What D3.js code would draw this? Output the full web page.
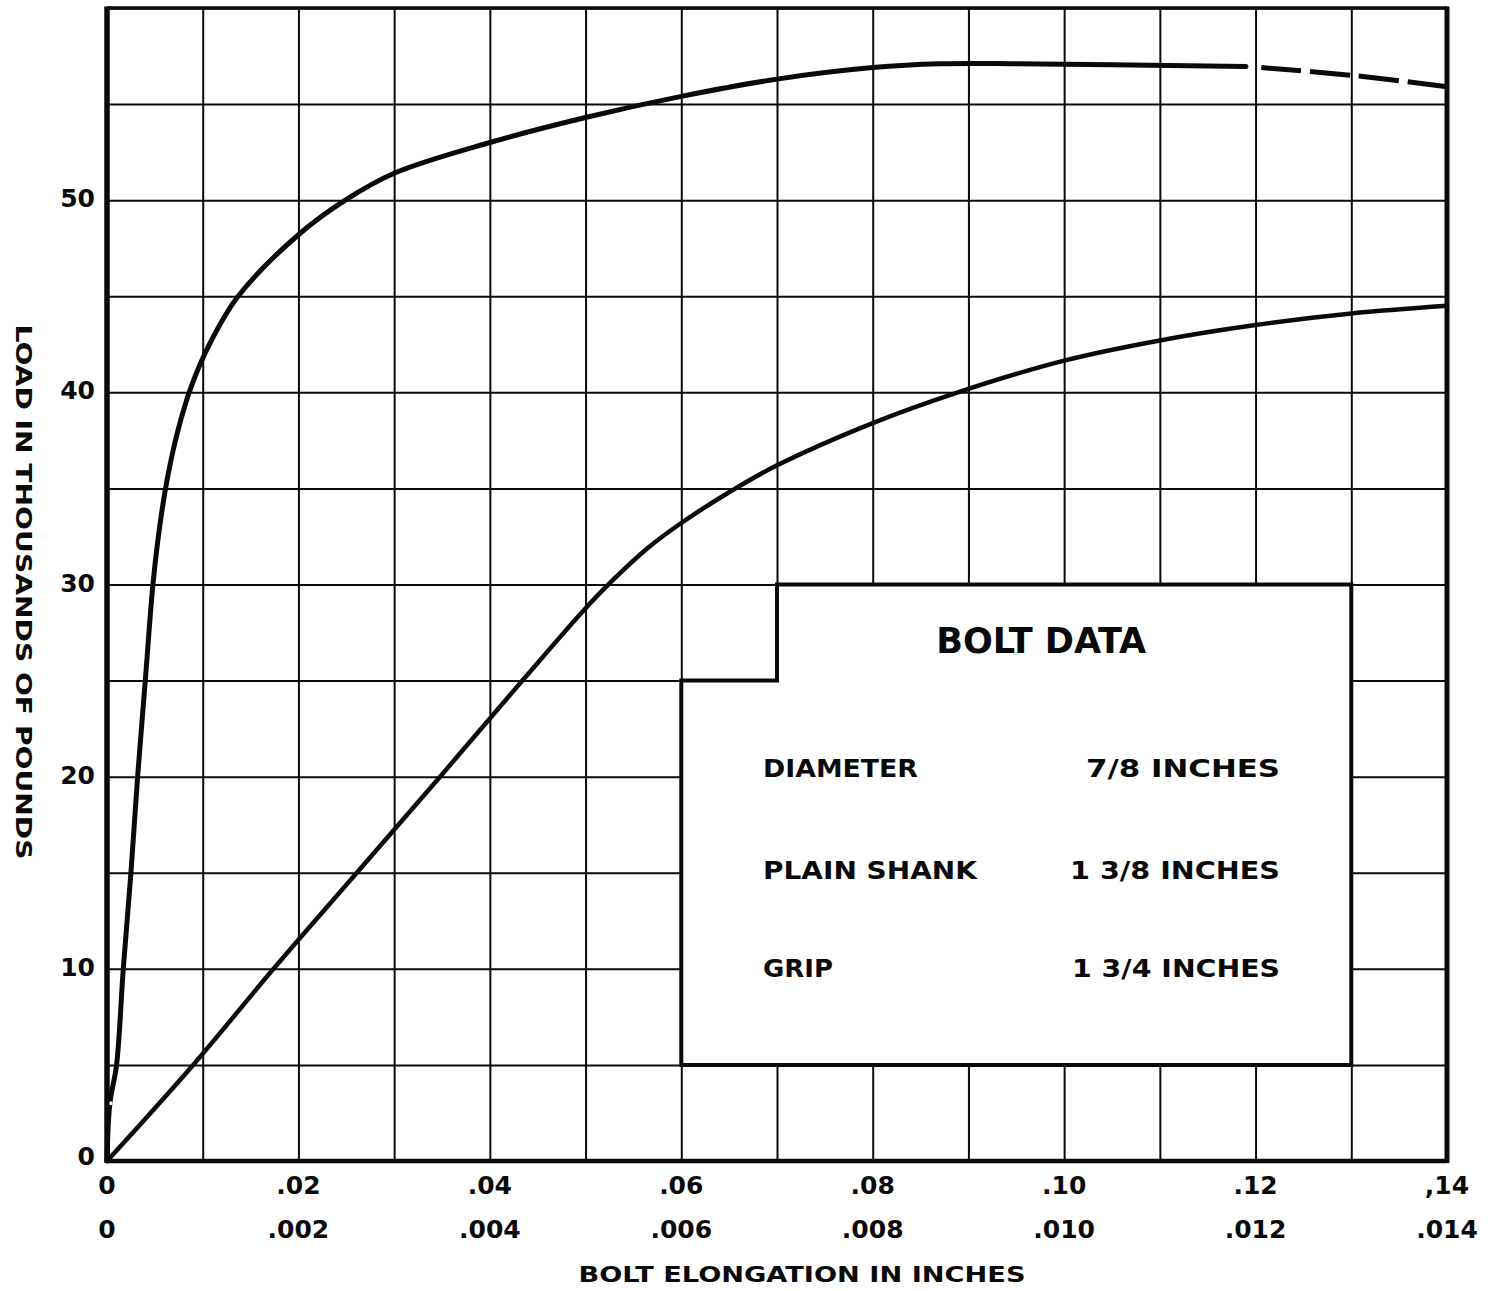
<!DOCTYPE html>
<html>
<head>
<meta charset="utf-8">
<script src="https://cdn.jsdelivr.net/npm/d3@7"></script>
<style>
  html, body { margin: 0; padding: 0; background: #fff; }
  svg { display: block; }
</style>
</head>
<body>
<svg id="chart" width="1493" height="1291"></svg>
<script>
// ---- data (x in top-scale units, load in thousands of pounds) ----
const steepCurve = [
  [0,0],[0.0003,3],[0.001,5],[0.0017,10],[0.0025,15],[0.0032,20],[0.004,25],
  [0.0048,30],[0.0055,33],[0.0063,35.5],[0.0074,38],[0.0088,40.3],[0.0107,42.5],
  [0.0137,45],[0.02,48.2],[0.0249,50],[0.03,51.4],[0.04,53.0],[0.05,54.3],
  [0.06,55.4],[0.07,56.3],[0.08,56.9],[0.087,57.1],[0.095,57.1],[0.105,57.05],
  [0.119,56.95]
];
const steepCurveDashed = [[0.1206,56.9],[0.13,56.5],[0.14,55.9]];
const gradualCurve = [
  [0,0],[0.009,5],[0.0174,10],[0.0261,15],[0.0348,20],[0.0434,25],[0.0497,28.6],
  [0.053,30.3],[0.0565,31.9],[0.06,33.2],[0.065,34.8],[0.07,36.2],[0.08,38.4],
  [0.0889,40],[0.10,41.65],[0.11,42.7],[0.12,43.5],[0.13,44.1],[0.14,44.5]
];
const markerPoint = [0.0003, 3];
const topTickValues = [0,0.02,0.04,0.06,0.08,0.10,0.12,0.14];
const topTickLabels = ["0",".02",".04",".06",".08",".10",".12",",14"];
const bottomTickValues = [0,0.002,0.004,0.006,0.008,0.010,0.012,0.014];
const bottomTickLabels = ["0",".002",".004",".006",".008",".010",".012",".014"];
const yTickValues = [0,10,20,30,40,50];
const yTickLabels = ["0","10","20","30","40","50"];
const xGridValues = d3.range(0, 15).map(i => i * 0.01);
const yGridValues = d3.range(0, 13).map(i => i * 5);
const boxOutline = [[0.06,5],[0.06,25],[0.07,25],[0.07,30],[0.13,30],[0.13,5]];
const boxTitle = "BOLT DATA";
const boxRows = [
  ["DIAMETER", "7/8 INCHES"],
  ["PLAIN SHANK", "1 3/8 INCHES"],
  ["GRIP", "1 3/4 INCHES"]
];
const boxRowLoads = [20.35, 15.05, 9.95];
const xTitle = "BOLT ELONGATION IN INCHES";
const yTitle = "LOAD IN THOUSANDS OF POUNDS";

// ---- layout ----
const L = 107, R = 1447, T = 8, B = 1161;
const x = d3.scaleLinear().domain([0, 0.14]).range([L, R]);
const xb = d3.scaleLinear().domain([0, 0.014]).range([L, R]);
const y = d3.scaleLinear().domain([0, 60]).range([B, T]);

const svg = d3.select("#chart");
const ink = "#0a0a0a";
const font = "'DejaVu Sans', 'Noto Sans', sans-serif";

// grid
const gx = svg.append("g").attr("transform", `translate(0,${B})`)
  .call(d3.axisBottom(x).tickValues(xGridValues).tickSize(-(B - T)).tickFormat(""));
gx.select(".domain").remove();
gx.selectAll("line").attr("stroke", ink).attr("stroke-width", 2);

const gy = svg.append("g").attr("transform", `translate(${L},0)`)
  .call(d3.axisLeft(y).tickValues(yGridValues).tickSize(-(R - L)).tickFormat(""));
gy.select(".domain").remove();
gy.selectAll("line").attr("stroke", ink).attr("stroke-width", 2);

// frame
svg.append("line").attr("x1", L).attr("x2", R).attr("y1", y(60)).attr("y2", y(60))
  .attr("stroke", ink).attr("stroke-width", 3.5);
svg.append("line").attr("x1", L).attr("x2", R).attr("y1", y(0)).attr("y2", y(0))
  .attr("stroke", ink).attr("stroke-width", 4.5);
svg.append("line").attr("x1", x(0)).attr("x2", x(0)).attr("y1", T - 1.5).attr("y2", B + 2)
  .attr("stroke", ink).attr("stroke-width", 5.5);
svg.append("line").attr("x1", x(0.14)).attr("x2", x(0.14)).attr("y1", T - 1.5).attr("y2", B + 2)
  .attr("stroke", ink).attr("stroke-width", 5);

// data box
const boxLine = d3.line().x(d => x(d[0])).y(d => y(d[1]));
svg.append("path").attr("d", boxLine(boxOutline) + "Z")
  .attr("fill", "#fff").attr("stroke", ink).attr("stroke-width", 4)
  .attr("stroke-linejoin", "miter");

svg.append("text").attr("x", x(0.0976)).attr("y", y(26.95))
  .attr("text-anchor", "middle").attr("dominant-baseline", "middle")
  .attr("font-family", "'DejaVu Sans Condensed', 'DejaVu Sans', sans-serif")
  .attr("font-size", 36).attr("font-weight", "bold").attr("fill", ink)
  .attr("textLength", 210).attr("lengthAdjust", "spacingAndGlyphs")
  .text(boxTitle);

const rowWidthsL = [155, 214, 70];
const rowWidthsR = [194, 210, 208];
boxRows.forEach((r, i) => {
  svg.append("text").attr("x", 763).attr("y", y(boxRowLoads[i]))
    .attr("dominant-baseline", "middle").attr("font-family", font)
    .attr("font-size", 25).attr("font-weight", "bold").attr("fill", ink)
    .attr("textLength", rowWidthsL[i]).attr("lengthAdjust", "spacingAndGlyphs")
    .text(r[0]);
  svg.append("text").attr("x", 1280 - rowWidthsR[i]).attr("y", y(boxRowLoads[i]))
    .attr("dominant-baseline", "middle").attr("font-family", font)
    .attr("font-size", 25).attr("font-weight", "bold").attr("fill", ink)
    .attr("textLength", rowWidthsR[i]).attr("lengthAdjust", "spacingAndGlyphs")
    .text(r[1]);
});

// curves
const line = d3.line().x(d => x(d[0])).y(d => y(d[1])).curve(d3.curveCatmullRom.alpha(0.5));
svg.append("path").attr("d", line(steepCurve)).attr("fill", "none")
  .attr("stroke", ink).attr("stroke-width", 5).attr("stroke-linecap", "round")
  .attr("stroke-linejoin", "round");
svg.append("path").attr("d", line(steepCurveDashed)).attr("fill", "none")
  .attr("stroke", ink).attr("stroke-width", 5).attr("stroke-dasharray", "40,9");
svg.append("path").attr("d", line(gradualCurve)).attr("fill", "none")
  .attr("stroke", ink).attr("stroke-width", 4.5).attr("stroke-linecap", "round")
  .attr("stroke-linejoin", "round");
svg.append("ellipse").attr("cx", x(markerPoint[0]) + 1).attr("cy", y(markerPoint[1]))
  .attr("rx", 1.5).attr("ry", 2).attr("fill", "#fff").attr("stroke", "none");

// tick labels
const tickStyle = sel => sel.attr("font-family", font).attr("font-size", 25)
  .attr("font-weight", "bold").attr("fill", ink);
svg.append("g").selectAll("text").data(yTickValues).join("text")
  .attr("x", 95).attr("y", d => y(d) - (d === 0 ? 3 : 0))
  .attr("text-anchor", "end").attr("dominant-baseline", "middle")
  .call(tickStyle).text((d, i) => yTickLabels[i]);
svg.append("g").selectAll("text").data(topTickValues).join("text")
  .attr("x", d => x(d)).attr("y", 1187)
  .attr("text-anchor", "middle").attr("dominant-baseline", "middle")
  .call(tickStyle).text((d, i) => topTickLabels[i]);
svg.append("g").selectAll("text").data(bottomTickValues).join("text")
  .attr("x", d => xb(d)).attr("y", 1231)
  .attr("text-anchor", "middle").attr("dominant-baseline", "middle")
  .call(tickStyle).text((d, i) => bottomTickLabels[i]);

// axis titles
svg.append("text").attr("x", 802).attr("y", 1276)
  .attr("text-anchor", "middle").attr("dominant-baseline", "middle")
  .attr("font-family", font).attr("font-size", 22).attr("font-weight", "bold").attr("fill", ink)
  .attr("textLength", 447).attr("lengthAdjust", "spacingAndGlyphs")
  .text(xTitle);
svg.append("text").attr("transform", `translate(22,592) rotate(90)`)
  .attr("text-anchor", "middle").attr("dominant-baseline", "middle")
  .attr("font-family", font).attr("font-size", 22).attr("font-weight", "bold").attr("fill", ink)
  .attr("textLength", 535).attr("lengthAdjust", "spacingAndGlyphs")
  .text(yTitle);
</script>
</body>
</html>
